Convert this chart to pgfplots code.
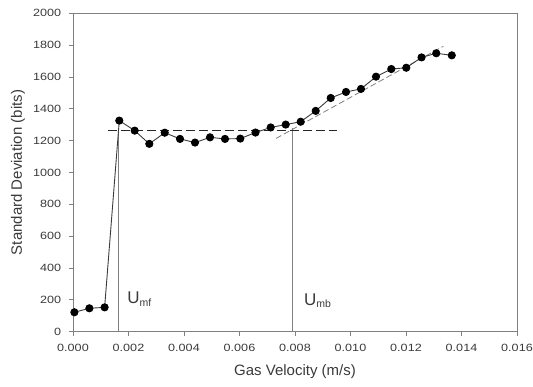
\documentclass[border=0pt]{standalone}
\usepackage{pgfplots}
\pgfplotsset{compat=1.18}
\usepackage{fontspec}
\setmainfont{Liberation Sans}
\definecolor{txt}{HTML}{3A3A3A}
\definecolor{frame}{HTML}{808080}
\definecolor{dline}{HTML}{3C3C3C}
\begin{document}
\begin{tikzpicture}
\useasboundingbox (-73pt,-54.3pt) rectangle (460pt,331.7pt);
\begin{axis}[
  at={(0,0)}, anchor=south west,
  scale only axis, width=444pt, height=318.4pt,
  xmin=0, xmax=0.016, ymin=0, ymax=2000,
  xtick={0,0.002,...,0.016}, ytick={0,200,...,2000},
  scaled x ticks=false,
  tick align=outside, major tick length=4pt,
  xtick pos=bottom, ytick pos=left,
  axis line style={frame, line width=0.9pt},
  every tick/.style={frame, line width=0.9pt},
  tick label style={font=\fontsize{10.5}{12}\selectfont, text=txt, xscale=1.2},
  xticklabel style={/pgf/number format/fixed, /pgf/number format/fixed zerofill, /pgf/number format/precision=3, yshift=-5pt},
  yticklabel style={/pgf/number format/1000 sep={}, xshift=-3pt},
  /pgf/number format/assume math mode=true,
  xlabel={Gas Velocity (m/s)},
  ylabel={Standard Deviation (bits)},
  every axis x label/.style={at={(axis description cs:0.5,-0.125)}, anchor=center, font=\fontsize{15}{17}\selectfont, text=txt},
  every axis y label/.style={at={(axis description cs:-0.124,0.5)}, anchor=center, rotate=90, font=\fontsize{15}{17}\selectfont, text=txt},
  clip=false,
]
% vertical markers
\addplot[frame, line width=0.8pt] coordinates {(0.001646,0) (0.001646,1270)};
\addplot[frame, line width=0.8pt] coordinates {(0.0079,0) (0.0079,1280)};
% horizontal thick dashed line
\addplot[black!85, line width=1.8pt, dash pattern=on 9pt off 4pt] coordinates {(0.00126,1264) (0.009525,1264)};
% slope dashed line
\addplot[gray, line width=0.8pt, dash pattern=on 6pt off 3pt] coordinates {(0.007315,1214) (0.013345,1793)};
% data
\addplot[dline, line width=0.9pt, mark=*, mark size=3.6pt, mark options={fill=black, draw=black}] coordinates {
(0.00005,122) (0.00059,147) (0.00114,153) (0.001668,1326) (0.002223,1263)
(0.00275,1180) (0.003305,1250) (0.003856,1211) (0.004396,1188) (0.004937,1221)
(0.005477,1211) (0.006029,1213) (0.006577,1251) (0.007124,1283) (0.007665,1301)
(0.008205,1319) (0.008746,1387) (0.009287,1468) (0.009838,1506) (0.010378,1525)
(0.010919,1602) (0.01147,1650) (0.01201,1658) (0.01256,1723) (0.01309,1749)
(0.01365,1736)};
\node[anchor=west, text=txt, font=\fontsize{17}{19}\selectfont, inner sep=0pt] at (axis cs:0.00195,205) {U\textsubscript{\fontsize{10.5}{12}\selectfont mf}};
\node[anchor=west, text=txt, font=\fontsize{17}{19}\selectfont, inner sep=0pt] at (axis cs:0.00832,195) {U\textsubscript{\fontsize{10.5}{12}\selectfont mb}};
\end{axis}
\end{tikzpicture}
\end{document}
